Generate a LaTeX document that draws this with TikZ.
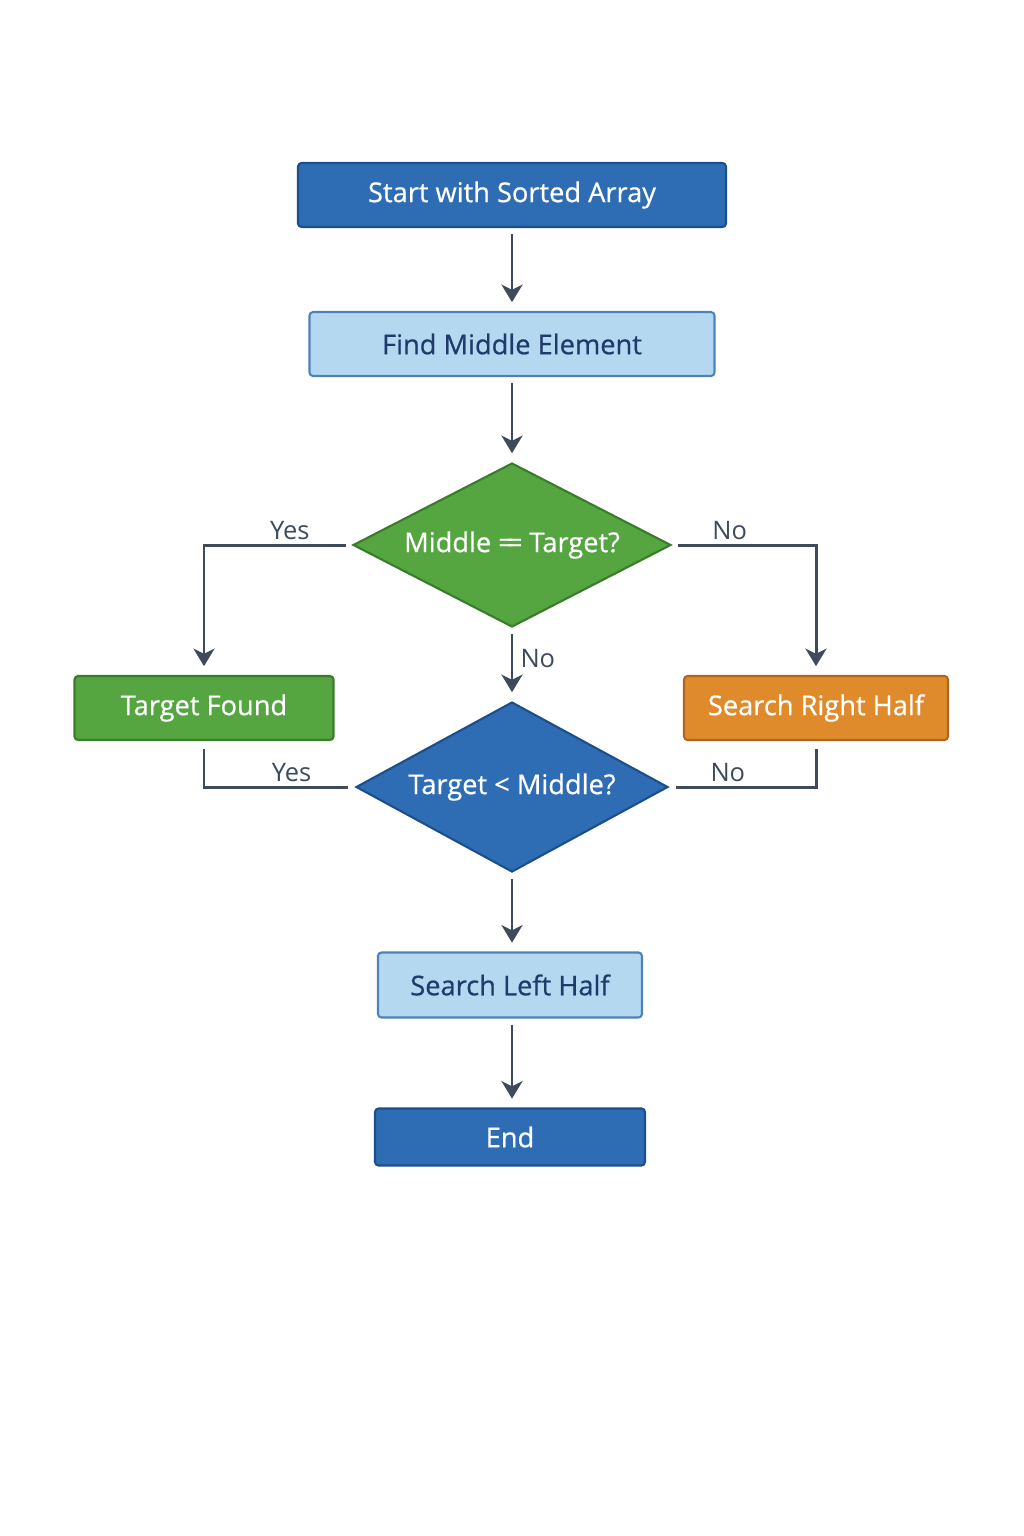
\documentclass[tikz,border=0pt]{standalone}
\usepackage{fontspec}
\setmainfont{Open Sans}
\usepackage{tikz}
\usetikzlibrary{arrows.meta,calc,positioning,shapes.geometric}
\definecolor{BSBlue}{HTML}{2E6DB4}
\definecolor{BSBlueEdge}{HTML}{1C4E8A}
\definecolor{BSLight}{HTML}{B4D8F0}
\definecolor{BSLightEdge}{HTML}{4D82B8}
\definecolor{BSNavy}{HTML}{1F3B6B}
\definecolor{BSGreen}{HTML}{55A540}
\definecolor{BSGreenEdge}{HTML}{3A7C2C}
\definecolor{BSOrange}{HTML}{E08B2B}
\definecolor{BSOrangeEdge}{HTML}{B0641E}
\definecolor{BSSlate}{HTML}{3E4B5C}
\newcommand{\bsFont}{\fontsize{15.5}{18}\selectfont\addfontfeature{FakeBold=0.6}}
\tikzset{
  bsBlock/.style={
    rectangle, rounded corners=2pt, draw=#1Edge, fill=#1, line width=1.2pt,
    align=center, text=white, minimum height=1.28cm,
    inner sep=4pt, font=\bsFont
  },
  bsBlock/.default=BSBlue,
  bsLight/.style={
    rectangle, rounded corners=2pt, draw=BSLightEdge, fill=BSLight, line width=1.2pt,
    align=center, text=BSNavy, minimum height=1.28cm,
    inner sep=4pt, font=\bsFont
  },
  bsDecision/.style={
    diamond, aspect=2, draw=#1Edge, fill=#1, line width=1.2pt,
    align=center, text=white, inner sep=0pt, font=\bsFont
  },
  bsDecision/.default=BSGreen,
  bsArrow/.style={-{Stealth[length=10pt,width=12pt,inset=3pt]}, draw=BSSlate,
    line width=1.7pt, shorten <=3.5pt, shorten >=5pt},
  bsLine/.style={draw=BSSlate, line width=1.7pt, shorten <=4.5pt, shorten >=4pt},
  bsLabel/.style={text=BSSlate, font=\fontsize{14.5}{17}\selectfont, inner sep=2pt}
}
\begin{document}
\begin{tikzpicture}[x=0.02cm,y=-0.02cm]
  \useasboundingbox[fill=white] (0,0) rectangle (1024,1536);

  \node[bsBlock, minimum width=8.56cm] (start) at (512,195) {Start with Sorted Array};
  \node[bsLight, minimum width=8.1cm] (middle) at (512,344) {Find Middle Element};
  \node[bsDecision, minimum width=6.36cm, minimum height=3.28cm] (check) at (512,545)
    {Middle =\kern-0.26em= Target?};
  \node[bsBlock=BSGreen, minimum width=5.18cm] (found) at (204,708) {Target Found};
  \node[bsBlock=BSOrange, minimum width=5.28cm] (right) at (816,708) {Search Right Half};
  \node[bsDecision=BSBlue, minimum width=6.24cm, minimum height=3.4cm] (less) at (512,787)
    {Target < Middle?};
  \node[bsLight, minimum width=5.28cm, minimum height=1.3cm] (left) at (510,985) {Search Left Half};
  \node[bsBlock, minimum width=5.4cm, minimum height=1.14cm] (end) at (510,1137) {End};

  \draw[bsArrow] (start) -- (middle);
  \draw[bsArrow] (middle) -- (check);
  \draw[bsArrow] (check.west) -| (found.north) node[bsLabel, pos=0.21, above] {Yes};
  \draw[bsArrow] (check.east) -| (right.north) node[bsLabel, pos=0.2, above] {No};
  \draw[bsArrow] (check) -- (less) node[bsLabel, pos=0.42, right, xshift=2pt] {No};
  \draw[bsLine] (found.south) |- (less.west) node[bsLabel, pos=0.79, above] {Yes};
  \draw[bsLine] (right.south) |- (less.east) node[bsLabel, pos=0.8, above] {No};
  \draw[bsArrow] (less.south) -- (less.south |- left.north);
  \draw[bsArrow] (left.south -| less.south) -- (end.north -| less.south);
\end{tikzpicture}
\end{document}
